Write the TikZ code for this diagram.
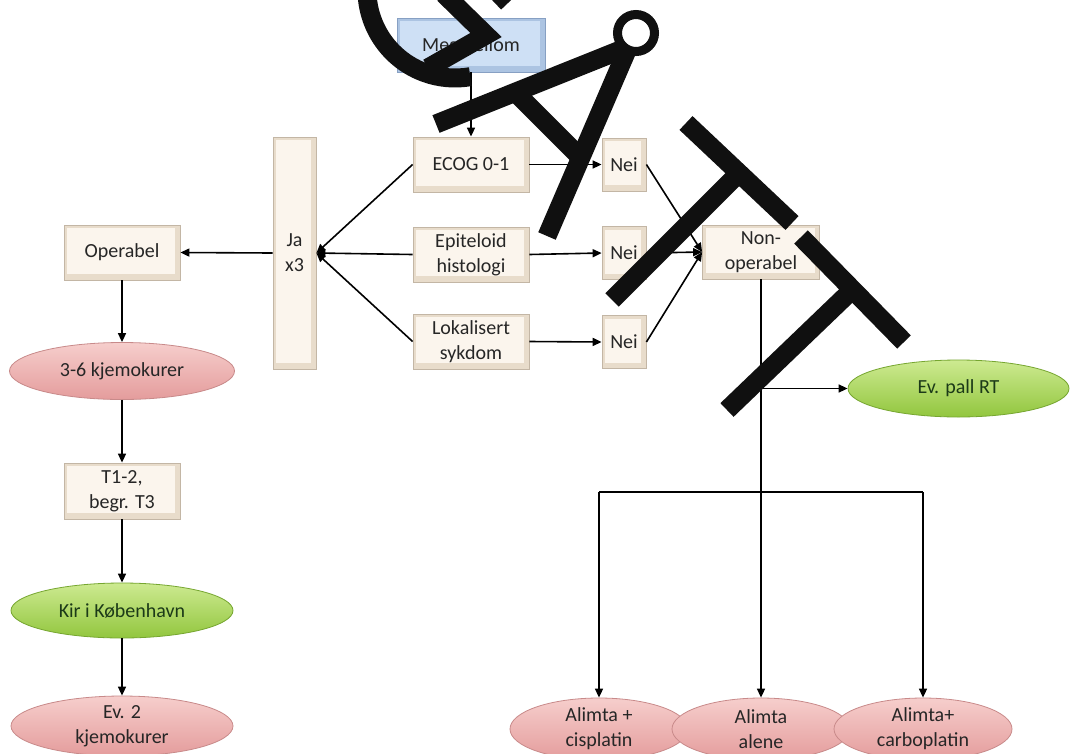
\documentclass[tikz,border=0pt]{standalone}
\usepackage{fontspec}
\setmainfont{Carlito}
\usetikzlibrary{arrows.meta,shapes.geometric}

\definecolor{boxin}{RGB}{251,245,237}
\definecolor{boxedge}{RGB}{232,220,203}
\definecolor{boxline}{RGB}{195,182,165}
\definecolor{bluein}{RGB}{206,224,245}
\definecolor{blueedge}{RGB}{172,196,226}
\definecolor{blueline}{RGB}{135,160,195}
\definecolor{pinktop}{RGB}{246,206,204}
\definecolor{pinkbot}{RGB}{228,156,156}
\definecolor{pinkline}{RGB}{200,138,138}
\definecolor{greentop}{RGB}{205,234,145}
\definecolor{greenbot}{RGB}{146,198,62}
\definecolor{greenline}{RGB}{118,166,48}
\definecolor{txt}{RGB}{38,38,38}
\definecolor{greentxt}{RGB}{28,58,24}
\definecolor{wmcol}{RGB}{16,16,16}

\tikzset{
  lbl/.style={font=\fontsize{20}{25}\selectfont, text=txt, align=center},
  rbox/.style={lbl, rectangle, draw=boxline, line width=0.8pt, fill=boxedge,
    inner sep=0pt, minimum width=116pt, minimum height=55pt,
    path picture={\fill[boxin] ([shift={(3pt,-3pt)}]path picture bounding box.north west)
      rectangle ([shift={(-5pt,6pt)}]path picture bounding box.south east);}},
  bbox/.style={lbl, rectangle, draw=blueline, line width=0.8pt, fill=blueedge,
    inner sep=0pt,
    path picture={\fill[bluein] ([shift={(3pt,-3pt)}]path picture bounding box.north west)
      rectangle ([shift={(-5pt,6pt)}]path picture bounding box.south east);}},
  pell/.style={lbl, ellipse, draw=pinkline, line width=0.8pt, top color=pinktop,
    bottom color=pinkbot, inner sep=0pt},
  gell/.style={lbl, ellipse, draw=greenline, line width=0.8pt, top color=greentop,
    bottom color=greenbot, inner sep=0pt, text=greentxt},
  arr/.style={draw=black, line width=1.6pt, -{Triangle[length=9pt,width=8pt]}},
  plain/.style={draw=black, line width=1.6pt},
  wmk/.style={draw=wmcol, line width=19pt, line cap=butt}
}

\begin{document}
\begin{tikzpicture}[x=1pt,y=-1pt]
\useasboundingbox (0,0) rectangle (1070,753);
\clip (0,0) rectangle (1070,753);
\fill[white] (0,0) rectangle (1070,753);

% boxes
\node[bbox, minimum width=148pt, minimum height=54pt] (meso) at (471,45) {Mesoteliom};
\node[rbox] (ecog) at (471,164.5) {ECOG 0-1};
\node[rbox] (epi) at (471,254.5) {Epiteloid\\histologi};
\node[rbox] (lok) at (471,341.5) {Lokalisert\\sykdom};
\node[rbox, minimum width=43pt, minimum height=232pt] (ja) at (294.5,253) {Ja\\x3};
\node[rbox] (oper) at (122,252.5) {Operabel};
\node[rbox, minimum width=44pt, minimum height=53pt] (nei1) at (624,164.5) {Nei};
\node[rbox, minimum width=44pt, minimum height=53pt] (nei2) at (624,253) {Nei};
\node[rbox, minimum width=44pt, minimum height=53pt] (nei3) at (624,342) {Nei};
\node[rbox, minimum width=117pt, minimum height=54pt] (nonop) at (761,252) {Non-\\operabel};
\node[pell, minimum width=225pt, minimum height=57pt] (k36) at (122,371) {3-6 kjemokurer};
\node[rbox, minimum height=56pt] (t12) at (122,491) {T1-2,\\begr. T3};
\node[gell, minimum width=222pt, minimum height=55pt] (kir) at (122,610.5) {Kir i København};
\node[pell, minimum width=222pt, minimum height=60pt] (ev2) at (122,726) {Ev. 2\\kjemokurer};
\node[gell, minimum width=221pt, minimum height=57pt] (pall) at (958.5,388.5) {Ev. pall RT};
\node[pell, minimum width=178pt, minimum height=62pt] (cis) at (599,729) {Alimta +\\cisplatin};
\node[pell, minimum width=178pt, minimum height=62pt] (alene) at (761,729) {Alimta\\alene};
\node[pell, minimum width=178pt, minimum height=62pt] (carbo) at (923,729) {Alimta+\\carboplatin};

% connectors
\draw[arr] (meso.south) -- (ecog.north);
\draw[arr] (ecog.east) -- (nei1.west);
\draw[arr] (epi.east) -- (nei2.west);
\draw[arr] (lok.east) -- (nei3.west);
\draw[arr] (ecog.west) -- (ja.east);
\draw[arr] (epi.west) -- (ja.east);
\draw[arr] (lok.west) -- (ja.east);
\draw[arr] (ja.west) -- (oper.east);
\draw[arr] (nei1.east) -- (nonop.west);
\draw[arr] (nei2.east) -- (nonop.west);
\draw[arr] (nei3.east) -- (nonop.west);
\draw[arr] (oper.south) -- (k36.north);
\draw[arr] (k36.south) -- (t12.north);
\draw[arr] (t12.south) -- (kir.north);
\draw[arr] (kir.south) -- (ev2.north);
\coordinate (pj) at (nonop.south |- pall.west);
\coordinate (br) at (761,492);
\draw[arr] (nonop.south) -- (alene.north);
\draw[arr] (pj) -- (pall.west);
\draw[plain] (cis.north |- br) -- (carbo.north |- br);
\draw[arr] (cis.north |- br) -- (cis.north);
\draw[arr] (carbo.north |- br) -- (carbo.north);

% overlaid black strokes
\draw[wmk] (455,-10) ++(200:88) arc[start angle=200, end angle=80, radius=88];
\draw[wmk, line join=miter] (444,-6) -- (486,35) -- (428,68);
\draw[wmk] (488,-18) -- (508,3);
\draw[wmk] (436,124) -- (628,47);
\draw[wmk] (547,236) -- (628,48);
\draw[wmk] (515,92) -- (579,156);
\filldraw[fill=white, draw=wmcol, line width=9pt] (636,33) circle[radius=18.5];
\draw[wmk] (686,123) -- (792,223);
\draw[wmk] (739,173) -- (612,300);
\draw[wmk] (801,237) -- (904,342);
\draw[wmk] (852,290) -- (727,410);
\end{tikzpicture}
\end{document}
